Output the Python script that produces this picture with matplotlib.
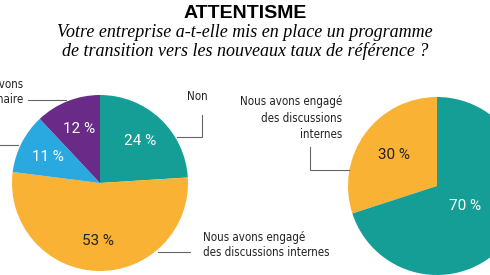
import matplotlib
matplotlib.use('Agg')
import matplotlib.pyplot as plt

# data
left_labels = ['Non', 'Nous avons engagé\ndes discussions internes', 'Oui', 'Nous avons\norganisé un séminaire']
left_values = [24, 53, 11, 12]
left_colors = ['#149e96', '#f9b233', '#2aa8e0', '#6a2b88']
left_pct_colors = ['white', '#222222', 'white', 'white']

right_labels = ['Nous avons engagé\ndes discussions\ninternes', 'Oui']
right_values = [30, 70]
right_colors = ['#f9b233', '#149e96']
right_pct_colors = ['#222222', 'white']

W, H = 490, 275
LINE = '#666666'
LAB = dict(family='DejaVu Sans', stretch='condensed', fontsize=8.3, color='#222222')


def Y(y):
    return H - y


fig = plt.figure(figsize=(W / 100, H / 100), dpi=100)
ax = fig.add_axes([0, 0, 1, 1])

pct = lambda v: '{:.0f} %'.format(v)

# left pie
w1, t1, p1 = ax.pie(left_values, colors=left_colors, startangle=90, counterclock=False,
                    center=(100, Y(183)), radius=88, autopct=pct, pctdistance=0.66,
                    frame=True, wedgeprops=dict(linewidth=0),
                    textprops=dict(family='Roboto', fontsize=11))
for t in t1:
    t.set_visible(False)
for txt, c in zip(p1, left_pct_colors):
    txt.set_color(c)

# right pie
w2, t2, p2 = ax.pie(right_values, colors=right_colors, startangle=90, counterclock=True,
                    center=(437, Y(186)), radius=89, autopct=pct, pctdistance=0.6,
                    frame=True, wedgeprops=dict(linewidth=0),
                    textprops=dict(family='Roboto', fontsize=11))
for t in t2:
    t.set_visible(False)
for txt, c in zip(p2, right_pct_colors):
    txt.set_color(c)
# 70 % label sits closer to the centre (pie is cut by the border)
x0, y0 = p2[1].get_position()
cx, cy = 437, Y(186)
p2[1].set_position((cx + (x0 - cx) * 0.65, cy + (y0 - cy) * 0.65))

ax.set_xlim(0, W)
ax.set_ylim(0, H)
ax.set_aspect('auto')
ax.axis('off')

# title
fig.text(0.5, 1 - 13 / H, 'ATTENTISME', ha='center', va='center',
         family=['Liberation Sans', 'DejaVu Sans'], weight='bold', fontsize=14)
fig.text(0.5, 1 - 42 / H,
         'Votre entreprise a-t-elle mis en place un programme\n'
         'de transition vers les nouveaux taux de référence ?',
         ha='center', va='center', family=['Liberation Serif', 'DejaVu Serif'],
         style='italic', fontsize=13, linespacing=1.05)

# leader lines and labels
ax.plot([177, 202, 202], [Y(137), Y(137), Y(115)], color=LINE, lw=0.8)
ax.text(197, Y(97), left_labels[0], ha='center', va='center', **LAB)

ax.plot([158, 190], [Y(252), Y(252)], color=LINE, lw=0.8)
ax.text(203, Y(245), left_labels[1], ha='left', va='center', linespacing=1.3, **LAB)

ax.plot([0, 18], [Y(145), Y(145)], color=LINE, lw=0.8)

ax.plot([28, 66], [Y(100), Y(100)], color=LINE, lw=0.8)
ax.text(23, Y(92), left_labels[3], ha='right', va='center', linespacing=1.3,
        multialignment='right', **LAB)

ax.plot([310, 310, 349], [Y(147), Y(170), Y(170)], color=LINE, lw=0.8)
ax.text(342, Y(118), right_labels[0], ha='right', va='center', linespacing=1.3,
        multialignment='right', **LAB)

fig.savefig('out.png', dpi=100)
